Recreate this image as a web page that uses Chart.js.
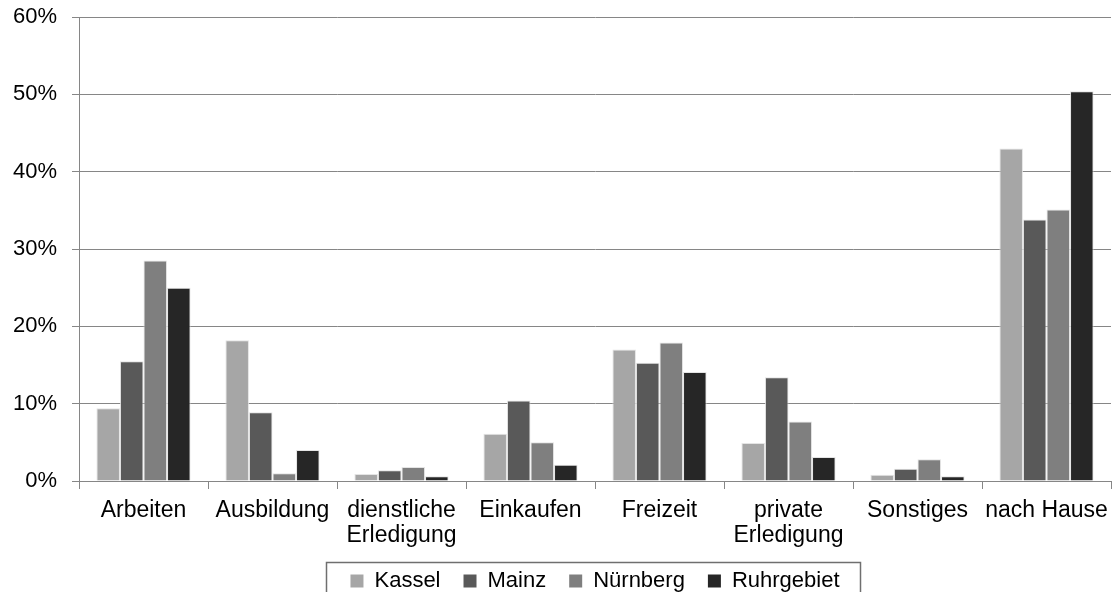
<!DOCTYPE html>
<html lang="de">
<head>
<meta charset="utf-8">
<title>Wegezwecke</title>
<script src="https://cdn.jsdelivr.net/npm/chart.js@4/dist/chart.umd.min.js"></script>
<style>
    html, body { margin: 0; padding: 0; background: #fff; overflow: hidden; }
    #wrap { width: 1118px; height: 602px; }
</style>
</head>
<body>
<div id="wrap"><canvas id="chart" width="1118" height="602"></canvas></div>
<script>
// Kategorien (Wegezweck)
const categories = [
    'Arbeiten', 'Ausbildung', ['dienstliche', 'Erledigung'], 'Einkaufen',
    'Freizeit', ['private', 'Erledigung'], 'Sonstiges', 'nach Hause'
];

// Anteile in Prozent je Stadt/Region
const kassel     = [9.4, 18.2, 0.9, 6.1, 17.0, 4.9, 0.8, 43.0];
const mainz      = [15.5, 8.9, 1.4, 10.4, 15.3, 13.4, 1.6, 33.8];
const nuernberg  = [28.5, 1.0, 1.8, 5.0, 17.9, 7.7, 2.8, 35.1];
const ruhrgebiet = [25.0, 4.0, 0.6, 2.1, 14.1, 3.1, 0.6, 50.4];

// Achsenbeschriftung
const yTicks = [0, 10, 20, 30, 40, 50, 60];

const FONT = '"Liberation Sans", Arial, sans-serif';
const AXIS_GREY = '#868686';

function bars(label, data, color) {
    return {
        label,
        data,
        backgroundColor: color,
        borderColor: 'rgba(225, 225, 225, 0.9)',
        borderWidth: { top: 1, left: 1, right: 1, bottom: 0 },
        borderSkipped: 'bottom'
    };
}

// Rahmen um die Legende
const legendFrame = {
    id: 'legendFrame',
    afterDraw(chart) {
        const boxes = chart.legend.legendHitBoxes;
        if (!boxes || !boxes.length) return;
        const first = boxes[0];
        const last = boxes[boxes.length - 1];
        const mid = first.top + first.height / 2;
        const left = Math.round(first.left - 24) + 0.5;
        const right = Math.round(last.left + last.width + 20) + 0.5;
        const top = Math.round(mid - 19) + 0.5;
        const ctx = chart.ctx;
        ctx.save();
        ctx.strokeStyle = '#6f6f6f';
        ctx.lineWidth = 1.5;
        ctx.strokeRect(left, top, right - left, chart.height);
        ctx.restore();
    }
};

const ctx = document.getElementById('chart').getContext('2d');
new Chart(ctx, {
    type: 'bar',
    data: {
        labels: categories,
        datasets: [
            bars('Kassel', kassel, '#a6a6a6'),
            bars('Mainz', mainz, '#595959'),
            bars('Nürnberg', nuernberg, '#7f7f7f'),
            bars('Ruhrgebiet', ruhrgebiet, '#262626')
        ]
    },
    options: {
        responsive: false,
        animation: false,
        devicePixelRatio: 1,
        layout: { padding: { top: 17, right: 7, bottom: 0, left: 0 } },
        datasets: {
            bar: { categoryPercentage: 0.73, barPercentage: 1.0 }
        },
        scales: {
            x: {
                grid: {
                    offset: true,
                    drawOnChartArea: false,
                    drawTicks: true,
                    tickLength: 8,
                    color: AXIS_GREY
                },
                border: { color: AXIS_GREY, width: 1 },
                ticks: {
                    color: '#000',
                    padding: 9,
                    maxRotation: 0,
                    autoSkip: false,
                    font: { family: FONT, size: 23, lineHeight: 1.1 }
                },
                afterFit(scale) {
                    scale.height = 66;
                }
            },
            y: {
                min: 0,
                max: 60,
                afterBuildTicks(scale) {
                    scale.ticks = yTicks.map(v => ({ value: v }));
                },
                grid: {
                    color: AXIS_GREY,
                    lineWidth: 1,
                    tickLength: 7
                },
                border: { color: AXIS_GREY, width: 1 },
                ticks: {
                    color: '#000',
                    padding: 15,
                    font: { family: FONT, size: 22 },
                    callback: v => v + '%'
                },
                afterFit(scale) {
                    scale.width = 79;
                    scale.paddingTop = 0;
                    scale.paddingBottom = 0;
                }
            }
        },
        plugins: {
            tooltip: { enabled: false },
            legend: {
                position: 'bottom',
                fullSize: false,
                labels: {
                    color: '#000',
                    boxWidth: 13,
                    boxHeight: 13,
                    padding: 23,
                    font: { family: FONT, size: 22 },
                    generateLabels(chart) {
                        return Chart.defaults.plugins.legend.labels.generateLabels(chart)
                            .map(item => ({ ...item, lineWidth: 0 }));
                    }
                }
            }
        }
    },
    plugins: [legendFrame]
});
</script>
</body>
</html>
